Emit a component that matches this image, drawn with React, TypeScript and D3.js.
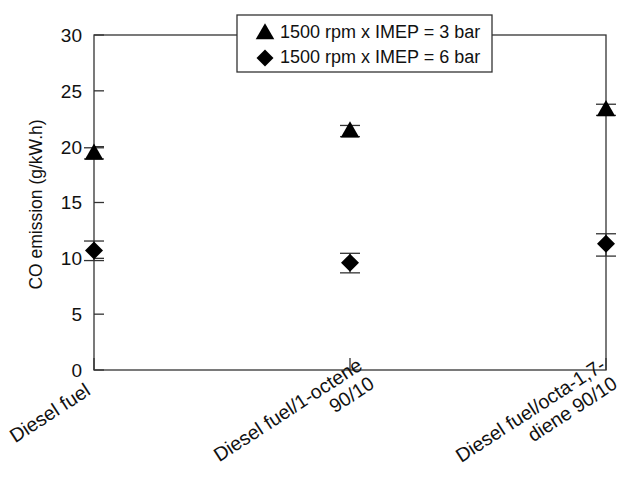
import React from "react";
import * as d3 from "d3";

const categories = ["Diesel fuel", "Diesel fuel/1-octene|90/10", "Diesel fuel/octa-1,7-|diene 90/10"];
const series3bar = [19.4, 21.4, 23.3];
const err3bar = [0.5, 0.5, 0.5];
const series6bar = [10.7, 9.6, 11.3];
const err6barUp = [0.85, 0.85, 0.9];
const err6barDown = [0.9, 0.9, 1.1];
const yTicks = [0, 5, 10, 15, 20, 25, 30];
const legendLabels = ["1500 rpm x IMEP = 3 bar", "1500 rpm x IMEP = 6 bar"];

const W = 626, H = 481;
const L = 94, R = 606, T = 35, B = 370;
const font = "'Liberation Sans', Arial, Helvetica, sans-serif";
// label anchor offsets (layout only)
const labelOffsets: [number, number][] = [[-6, 18], [16, 2], [3, 2]];

export default function App() {
  const x = d3.scalePoint<string>().domain(categories).range([L, R]).padding(0);
  const y = d3.scaleLinear().domain([0, 30]).range([B, T]);
  const tri = d3.symbol().type(d3.symbolTriangle).size(150)()!;
  const dia = (s: number) => `M0,${-s}L${s},0L0,${s}L${-s},0Z`;
  const stroke = "#333";
  const capW = 10;
  const lh = 22;

  const errBar = (cx: number, lo: number, hi: number, key: string) => (
    <g key={key} stroke={stroke} strokeWidth={1.3}>
      <line x1={cx} x2={cx} y1={y(lo)} y2={y(hi)} />
      <line x1={cx - capW} x2={cx + capW} y1={y(lo)} y2={y(lo)} />
      <line x1={cx - capW} x2={cx + capW} y1={y(hi)} y2={y(hi)} />
    </g>
  );

  return (
    <svg width={W} height={H} style={{ position: "absolute", left: 0, top: 0, background: "#fff" }} fontFamily={font}>
      <rect x={0} y={0} width={W} height={H} fill="#fff" />
      <rect x={L} y={T} width={R - L} height={B - T} fill="none" stroke={stroke} strokeWidth={1.3} />
      {yTicks.map((t) => (
        <g key={t}>
          <line x1={L} x2={L + 10} y1={y(t)} y2={y(t)} stroke={stroke} strokeWidth={1.3} />
          <text x={L - 12} y={y(t)} dy="0.36em" textAnchor="end" fontSize={19} fill="#111">{t}</text>
        </g>
      ))}
      {categories.map((c) => (
        <line key={c} x1={x(c)!} x2={x(c)!} y1={B} y2={B - 12} stroke={stroke} strokeWidth={1.3} />
      ))}
      {categories.map((c, ci) => {
        const lines = c.split("|");
        const cx = x(c)!;
        const [ox, oy] = labelOffsets[ci];
        return (
          <text key={c} transform={`translate(${cx + ox},${B + oy}) rotate(-33)`} textAnchor="end" fontSize={19.5} fill="#111">
            {lines.map((ln, i) => (
              <tspan key={i} x={0} y={(i - (lines.length - 1) / 2) * lh} dy="0.35em">{ln}</tspan>
            ))}
          </text>
        );
      })}
      <text transform={`translate(${42},${(T + B) / 2 + 2}) rotate(-90)`} textAnchor="middle" fontSize={17.5} fill="#111">
        CO emission (g/kW.h)
      </text>
      {categories.map((c, i) => errBar(x(c)!, series3bar[i] - err3bar[i], series3bar[i] + err3bar[i], "e3" + i))}
      {categories.map((c, i) => errBar(x(c)!, series6bar[i] - err6barDown[i], series6bar[i] + err6barUp[i], "e6" + i))}
      {categories.map((c, i) => (
        <path key={"t" + i} d={tri} transform={`translate(${x(c)!},${y(series3bar[i]) + 1})`} fill="#000" />
      ))}
      {categories.map((c, i) => (
        <path key={"d" + i} d={dia(9)} transform={`translate(${x(c)!},${y(series6bar[i])})`} fill="#000" />
      ))}
      <rect x={237} y={15} width={255} height={57} fill="#fff" stroke={stroke} strokeWidth={1.3} />
      <path d={tri} transform="translate(265,34)" fill="#000" />
      <path d={dia(8.5)} transform="translate(265,58)" fill="#000" />
      <text x={280} y={32} dy="0.36em" fontSize={18} fill="#111">{legendLabels[0]}</text>
      <text x={280} y={57} dy="0.36em" fontSize={18} fill="#111">{legendLabels[1]}</text>
    </svg>
  );
}
